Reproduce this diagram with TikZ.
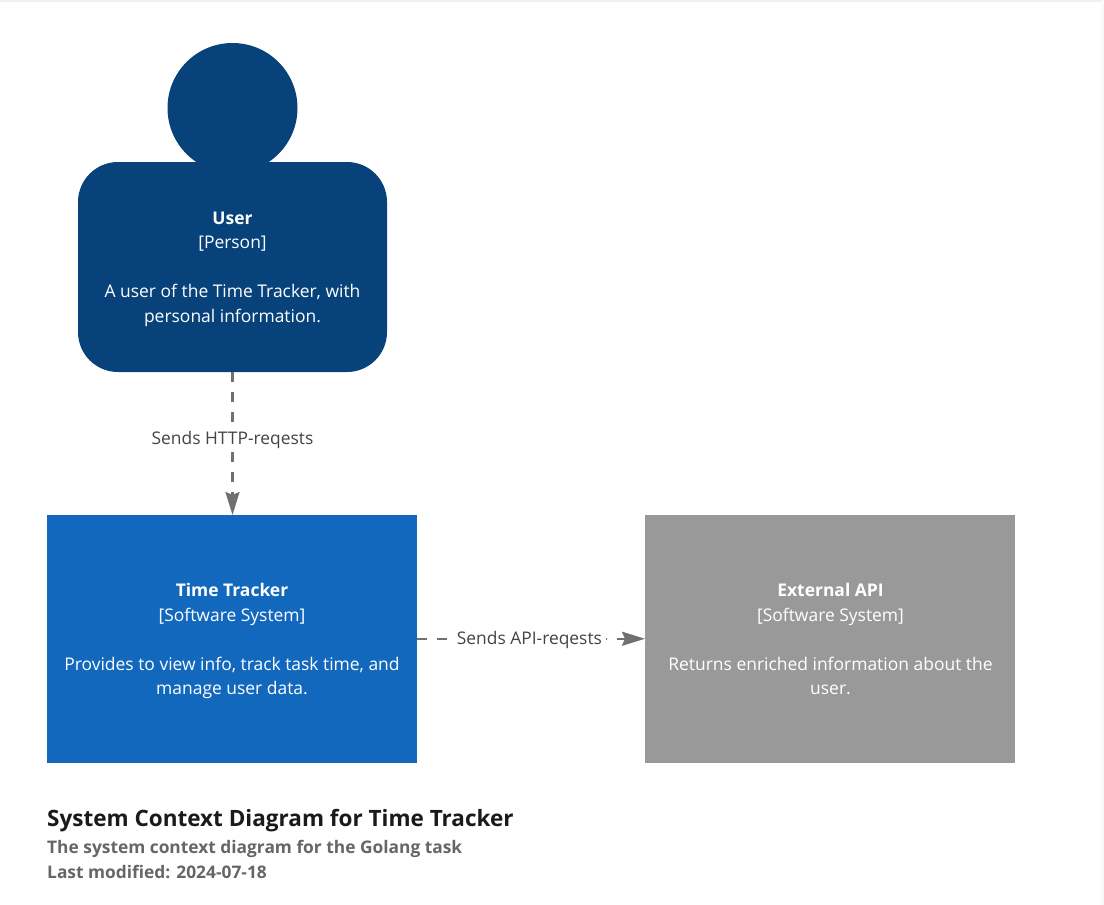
\documentclass[tikz,border=0pt]{standalone}
\usepackage{fontspec}
\setmainfont{Open Sans}
\usetikzlibrary{arrows.meta}
\definecolor{navy}{HTML}{08427B}
\definecolor{midblue}{HTML}{1168BD}
\definecolor{midgrey}{HTML}{999999}
\definecolor{linegrey}{HTML}{707070}
\definecolor{labelgrey}{HTML}{444444}
\definecolor{titleblack}{HTML}{1A1A1A}
\definecolor{subgrey}{HTML}{666666}
\definecolor{edgegrey}{HTML}{F0F0F0}
\tikzset{
  x=1pt, y=-1pt,
  shapetext/.style={text=white, font=\fontsize{17.45}{24.5}\selectfont, align=center, inner sep=0pt},
  systembox/.style={minimum width=370.25pt, minimum height=247.5pt, inner sep=0pt, outer sep=0pt, anchor=north west},
  rel/.style={draw=linegrey, line width=2.5pt, dash pattern=on 10pt off 10pt, -{Stealth[length=23pt,width=14pt,inset=3pt,sep=0pt]}},
  rellabel/.style={fill=white, text=labelgrey, font=\fontsize{17.4}{20}\selectfont, inner xsep=4pt, inner ysep=3pt},
  caption/.style={anchor=base west, inner sep=0pt}
}
\begin{document}
\begin{tikzpicture}
\useasboundingbox (0,0) rectangle (1104,905);
\fill[white] (0,0) rectangle (1104,905);
\fill[edgegrey] (0,0) rectangle (1104,2);
\fill[edgegrey!40] (1101,0) rectangle (1104,905);

\node[circle, fill=navy, minimum size=130pt, inner sep=0pt, outer sep=0pt] (head) at (232.5,108) {};
\node[rectangle, rounded corners=40pt, fill=navy, minimum width=309pt, minimum height=210pt, inner sep=0pt, outer sep=0pt, anchor=north west] (user) at (78,162) {};
\node[systembox, fill=midblue] (tracker) at (46.75,515) {};
\node[systembox, fill=midgrey] (api) at (645,515) {};

\node[shapetext] (usertext) at (232.5,269) {\textbf{User}\\{}[Person]\\[24.5pt]A user of the Time Tracker, with\\personal information.};
\node[shapetext] (trackertext) at (232,641) {\textbf{Time Tracker}\\{}[Software System]\\[24.5pt]Provides to view info, track task time, and\\manage user data.};
\node[shapetext] (apitext) at (830.5,639.2) {\textbf{External API}\\{}[Software System]\\[24.5pt]Returns enriched information about the\\user.};

\draw[rel] (user.south -| head.center) -- (tracker.north -| head.center)
  node[rellabel, pos=0.478] (httplabel) {Sends HTTP-reqests};
\draw[rel] (tracker.east) -- (api.west)
  node[rellabel, pos=0.493, yshift=-1pt] (apilabel) {Sends API-reqests};

\node[caption, text=titleblack, font=\fontsize{22.5}{28}\selectfont\bfseries] (title) at (47,826) {System Context Diagram for Time Tracker};
\node[caption, text=subgrey, font=\fontsize{17.35}{22}\selectfont\bfseries] (subtitle) at (47,853) {The system context diagram for the Golang task};
\node[caption, text=subgrey, font=\fontsize{17.35}{22}\selectfont\bfseries] (modified) at (47,878) {Last modified: 2024-07-18};
\end{tikzpicture}
\end{document}
